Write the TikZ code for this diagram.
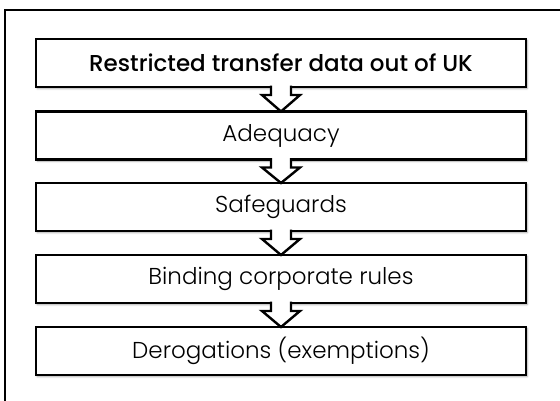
\documentclass[tikz,border=0pt]{standalone}
\usepackage{fontspec}
\setmainfont{Poppins}
\newfontfamily\lightfont{Poppins Light}
\newfontfamily\mediumfont{Poppins Medium}
\usetikzlibrary{calc,shadows.blur}

\tikzset{
  stage/.style={draw=black, line width=2.6pt, fill=white, outer sep=0pt,
    minimum width=490pt, minimum height=48pt, inner sep=0pt,
    blur shadow={shadow xshift=1.2pt, shadow yshift=-1.5pt,
      shadow blur steps=6, shadow opacity=35, shadow blur radius=2pt},
    font=\lightfont\fontsize{23}{26}\selectfont},
  headstage/.style={stage, font=\mediumfont\fontsize{23}{26}\selectfont},
  flowarrow/.style={draw=black, fill=white, line width=2.4pt, line join=miter},
  frame/.style={draw=black, line width=1.8pt}
}

\begin{document}
\begin{tikzpicture}
\useasboundingbox (0pt,0pt) rectangle (560pt,-401pt);

% open outer frame (left and top edges only)
\coordinate (fbl) at (5pt,-402pt);
\coordinate (ftl) at (5pt,-10pt);
\coordinate (ftr) at (561pt,-10pt);
\draw[frame] (fbl) -- (ftl) -- (ftr);

% stages of the transfer test
\node[headstage] (s1) at (281pt,-63pt)    {Restricted transfer data out of UK};
\node[stage]     (s2) at (281pt,-135.5pt) {Adequacy};
\node[stage]     (s3) at (281pt,-207pt)   {Safeguards};
\node[stage]     (s4) at (281pt,-279pt)   {Binding corporate rules};
\node[stage]     (s5) at (281pt,-351pt)   {Derogations (exemptions)};

% hollow block arrows linking consecutive stages
\foreach \a/\b in {s1/s2, s2/s3, s3/s4, s4/s5}{
  \draw[flowarrow]
    ($(\a.south)+(-10pt,1.4pt)$) -- ($(\a.south)+(-10pt,-8pt)$)
    -- ($(\a.south)+(-19pt,-8pt)$) -- (\b.north)
    -- ($(\a.south)+(19pt,-8pt)$) -- ($(\a.south)+(10pt,-8pt)$)
    -- ($(\a.south)+(10pt,1.4pt)$);
}
\end{tikzpicture}
\end{document}
